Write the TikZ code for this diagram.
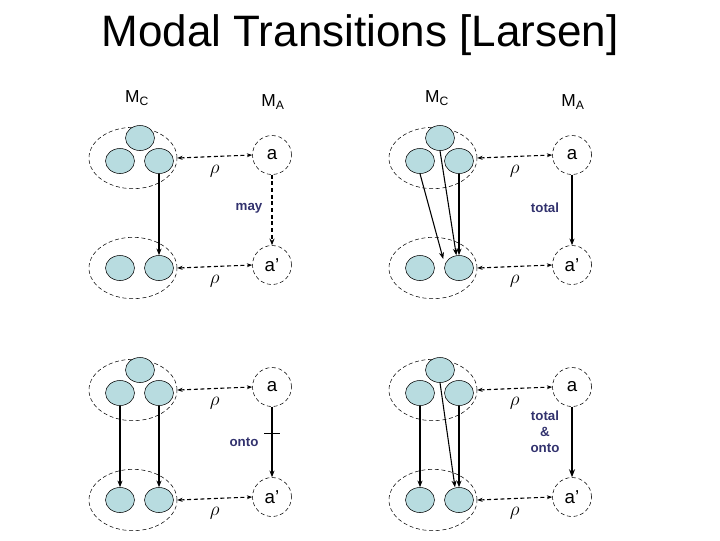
\documentclass[tikz,border=0pt]{standalone}
\usepackage{fontspec}
\setmainfont{Liberation Sans}
\usetikzlibrary{arrows.meta,shapes.geometric}
\definecolor{cfill}{RGB}{184,220,224}
\definecolor{navy}{RGB}{50,50,110}
\begin{document}
\begin{tikzpicture}[x=0.75pt,y=-0.75pt,
  sm/.style={ellipse,draw,fill=cfill,minimum width=29*0.75pt,minimum height=25*0.75pt,inner sep=0pt},
  st/.style={circle,draw,densely dashed,thin,minimum size=39*0.75pt,inner sep=0pt,font=\fontsize{14}{14}\selectfont},
  rel/.style={densely dashed,thick,{Stealth[length=4pt]}-{Stealth[length=4pt]}},
  tr/.style={thick,-{Stealth[length=5pt]}},
  lab/.style={font=\fontsize{10}{12}\bfseries\selectfont,text=navy,align=center},
  rho/.style={font=\fontsize{14}{14}\selectfont},
  mm/.style={font=\fontsize{13}{13}\selectfont},
  grp/.style={draw,densely dashed,thin,ellipse,minimum width=66pt,minimum height=46pt}]
\useasboundingbox (0,0) rectangle (720,540);
\node (title) at (360,35) {\fontsize{33}{36}\selectfont Modal Transitions [Larsen]};
\node[mm] (mcA) at (137,98) {M\textsubscript{C}};
\node[mm] (maA) at (273,102) {M\textsubscript{A}};
\node[mm] (mcB) at (437,98) {M\textsubscript{C}};
\node[mm] (maB) at (573,102) {M\textsubscript{A}};
\newcommand{\mypanel}[3]{%
  \begin{scope}[shift={(#1,#2)}]
  \node[grp] (E1#3) at (133,158) {};
  \node[sm] (t#3) at (140,138) {};
  \node[sm] (l#3) at (120,161) {};
  \node[sm] (r#3) at (159,161) {};
  \node[grp] (E2#3) at (133,268) {};
  \node[sm] (bl#3) at (120,268) {};
  \node[sm] (br#3) at (159,268) {};
  \node[st] (a#3) at (272,155) {a};
  \node[st] (b#3) at (272,265) {a'};
  \draw[rel] (E1#3.east) -- (a#3.west) node[rho,midway,below=3pt] (p1#3) {$\rho$};
  \draw[rel] (E2#3.east) -- (b#3.west) node[rho,midway,below=3pt] (p2#3) {$\rho$};
  \end{scope}}
\mypanel{0}{0}{A}
\mypanel{300}{0}{B}
\mypanel{0}{232}{C}
\mypanel{300}{232}{D}
% panel A: may
\draw[tr] (rA.south) -- (brA.north);
\draw[densely dashed,thick,-{Stealth[length=5pt]}] (aA) -- (bA);
\node[lab] (mayl) at (249,208) {may};
% panel B: total
\draw[tr] (tB.south) -- ([xshift=-2pt]brB.north);
\draw[tr] (lB.south) -- ([xshift=-4pt]brB.north west);
\draw[tr] (rB.south) -- (brB.north);
\draw[tr] (aB) -- (bB);
\node[lab] (totl) at (545,208) {total};
% panel C: onto
\draw[tr] (lC.south) -- (blC.north);
\draw[tr] (rC.south) -- (brC.north);
\draw[tr] (aC) -- (bC) coordinate[pos=0.38] (tk);
\draw[thin] ([xshift=-6pt]tk) -- ([xshift=6pt]tk);
\node[lab] (ontol) at (244,442) {onto};
% panel D: total & onto
\draw[tr] (lD.south) -- (blD.north);
\draw[tr] (rD.south) -- (brD.north);
\draw[tr] (tD.south) -- ([xshift=-3pt]brD.north);
\draw[line width=2pt,-{Stealth[length=6pt]}] (aD) -- (bD);
\node[lab] (tol) at (545,432) {total\\\&\\onto};
\end{tikzpicture}
\end{document}
